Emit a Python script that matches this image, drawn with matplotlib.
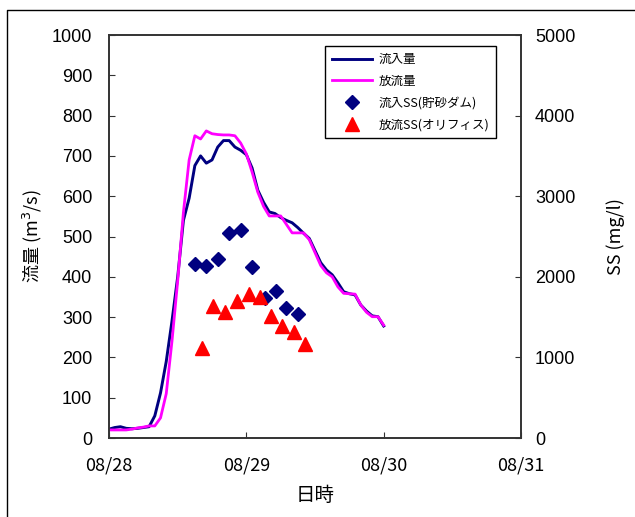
import numpy as np
import matplotlib.pyplot as plt
from matplotlib.lines import Line2D

# ----------------------------------------------------------------
#  DATA  (hourly flow from 08/28 00:00, SS grab samples)
# ----------------------------------------------------------------
flow_hours = list(range(49))
inflow = [22, 26, 28, 24, 23, 24, 26, 28, 55, 112, 190, 290, 400, 540, 595,
          676, 700, 682, 690, 722, 738, 738, 722, 714, 703, 670, 615, 585,
          561, 557, 547, 540, 534, 522, 508, 495, 465, 435, 417, 405, 385,
          363, 358, 355, 330, 315, 303, 301, 278]
outflow = [20, 20, 20, 20, 22, 25, 27, 30, 30, 50, 110, 240, 390, 560, 690,
           750, 742, 762, 755, 753, 752, 752, 750, 732, 705, 660, 610, 575,
           551, 551, 551, 530, 509, 509, 509, 492, 460, 428, 410, 400, 375,
           359, 358, 357, 330, 312, 301, 301, 280]

ss_in_hours = [15, 17, 19, 21, 23, 25, 27.2, 29.1, 31, 33]
ss_in = [2155, 2140, 2220, 2545, 2585, 2120, 1735, 1830, 1610, 1540]
ss_out_hours = [16.2, 18.2, 20.3, 22.3, 24.4, 26.4, 28.3, 30.2, 32.3, 34.3]
ss_out = [1120, 1640, 1560, 1695, 1790, 1745, 1515, 1385, 1320, 1170]

day_ticks = [0, 1, 2, 3]
day_labels = ['08/28', '08/29', '08/30', '08/31']

JP = ['Noto Sans CJK JP', 'DejaVu Sans']
plt.rcParams['font.family'] = ['Liberation Sans', 'Noto Sans CJK JP']

def days(h):
    return np.asarray(h, dtype=float) / 24.0

# ----------------------------------------------------------------
#  PLOT
# ----------------------------------------------------------------
fig = plt.figure(figsize=(6.35, 5.17), dpi=100)
ax = fig.add_axes([0.1717, 0.1528, 0.6488, 0.7795])
ax2 = ax.twinx()

ax.plot(days(flow_hours), inflow, color='#000080', lw=2.1, label='流入量')
ax.plot(days(flow_hours), outflow, color='#FF00FF', lw=2.0, label='放流量')
ax2.plot(days(ss_in_hours), ss_in, ls='none', marker='D', ms=6.8,
         color='#000080', label='流入SS(貯砂ダム)')
ax2.plot(days(ss_out_hours), ss_out, ls='none', marker='^', ms=10.5,
         color='#FF0000', label='放流SS(オリフィス)')

ax.set_xlim(0, 3)
ax.set_ylim(0, 1000)
ax2.set_ylim(0, 5000)
ax.set_yticks(range(0, 1001, 100))
ax2.set_yticks(range(0, 5001, 1000))
ax.set_xticks(day_ticks)
ax.set_xticklabels(day_labels, family=JP, fontsize=15)

ax.tick_params(axis='both', direction='in', length=4, labelsize=13,
               color='#333333')
ax.tick_params(axis='y', pad=12)
ax.tick_params(axis='x', pad=13)
ax2.tick_params(axis='y', direction='in', length=4, labelsize=13, pad=10,
                color='#333333')
for a in (ax, ax2):
    for s in a.spines.values():
        s.set_color('#333333')
        s.set_linewidth(1.2)

ax.set_ylabel('流量 (m$^3$/s)', family=JP, fontsize=13, labelpad=6)
ax2.set_ylabel('SS (mg/l)', family=JP, fontsize=13, labelpad=22)
ax.set_xlabel('日時', family=JP, fontsize=14, labelpad=8)

h1, l1 = ax.get_legend_handles_labels()
h2, l2 = ax2.get_legend_handles_labels()
leg = ax2.legend(h1 + h2, l1 + l2, loc='upper left',
                 bbox_to_anchor=(0.512, 0.911), bbox_transform=fig.transFigure,
                 prop={'family': JP, 'size': 9}, fancybox=False,
                 framealpha=1, edgecolor='black', borderpad=0.55,
                 handlelength=3.2, handletextpad=0.5, labelspacing=0.7,
                 borderaxespad=0)
leg.get_frame().set_linewidth(1.0)

# chart area border (top and left edges)
fig.add_artist(Line2D([7 / 635, 7 / 635, 1], [0, 1 - 10 / 517, 1 - 10 / 517],
                      transform=fig.transFigure, color='black', lw=1))

fig.savefig('out.png', dpi=100)
